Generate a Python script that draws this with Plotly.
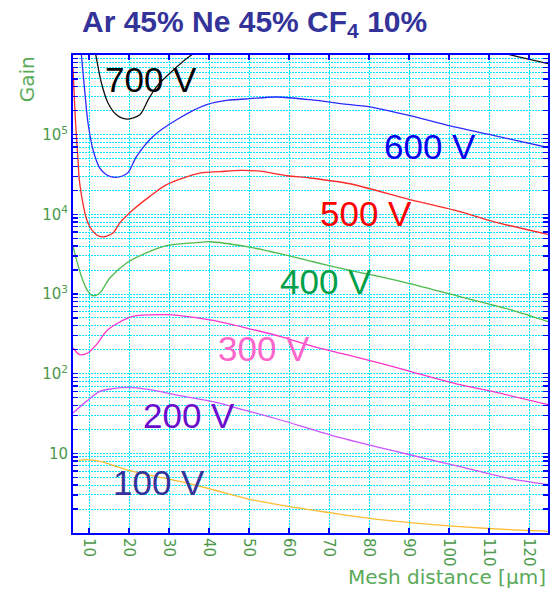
import plotly.graph_objects as go

# ---- data ----
v700_x = [10.9, 11.7, 13.1, 14.75, 16.85, 19.4, 22.7, 24.8, 26.9, 30.2, 35.6, 45, 60, 80, 100, 116.1, 124.7]
v700_g = [1.6e6, 1.0e6, 4.45e5, 2.5e5, 1.78e5, 1.57e5, 1.78e5, 2.75e5, 4.0e5, 5.9e5, 1.0e6, 1.8e6, 2.5e6, 2.3e6, 1.6e6, 9.8e5, 7.8e5]

v600_x = [7.5, 8.1, 8.9, 9.75, 11.0, 12.7, 14.35, 16.4, 18.5, 19.8, 21.9, 26.0, 31.9, 39.4, 44.4, 50.2, 56.9, 65.2, 75.2, 79.4, 90.2, 100.2, 110.2, 124.7]
v600_g = [2.0e6, 1.0e6, 3.67e5, 1.40e5, 6.47e4, 3.81e4, 3.14e4, 2.91e4, 3.05e4, 3.36e4, 5.34e4, 9.51e4, 1.54e5, 2.38e5, 2.69e5, 2.83e5, 2.97e5, 2.75e5, 2.38e5, 2.26e5, 1.73e5, 1.29e5, 1.0e5, 6.9e4]

v500_x = [6.0, 6.67, 7.25, 7.67, 9.75, 11.85, 13.5, 16.0, 17.7, 21.0, 25.2, 29.4, 37.7, 42.7, 47.7, 52.7, 59.4, 65.2, 75.2, 90.2, 102.7, 111.0, 124.7]
v500_g = [6.9e5, 1.33e5, 4.85e4, 2.47e4, 7.8e3, 5.55e3, 5.2e3, 5.83e3, 7.8e3, 1.14e4, 1.68e4, 2.36e4, 3.30e4, 3.43e4, 3.56e4, 3.48e4, 3.05e4, 2.86e4, 2.42e4, 1.53e4, 1.08e4, 8.1e3, 5.6e3]

v400_x = [6.0, 8.1, 9.75, 11.0, 12.7, 15.2, 19.4, 25.2, 29.4, 37.7, 40.2, 49.4, 57.7, 66.0, 74.4, 82.7, 90.2, 102.7, 115.2, 124.7]
v400_g = [3.96e3, 1.66e3, 1.08e3, 952, 1.03e3, 1.59e3, 2.45e3, 3.43e3, 4.04e3, 4.45e3, 4.53e3, 3.93e3, 3.21e3, 2.54e3, 2.02e3, 1.65e3, 1.35e3, 925, 635, 449]

v300_x = [6.0, 7.67, 9.75, 11.85, 14.7, 20.9, 29.4, 32.7, 41.0, 49.4, 57.7, 66.0, 74.4, 82.7, 90.2, 102.7, 111.0, 124.7]
v300_g = [210, 173, 183, 231, 356, 523, 550, 535, 466, 374, 294, 220, 173, 136, 107, 72.7, 59.4, 40.8]

v200_x = [6.0, 9.35, 12.7, 15.9, 19.4, 25.2, 32.7, 41.0, 49.4, 57.7, 70.2, 82.7, 90.2, 102.7, 115.2, 124.7]
v200_g = [32.1, 44.9, 59.9, 64.7, 67.3, 62.9, 52.9, 44.5, 34.3, 26.4, 17.1, 11.8, 9.6, 6.8, 4.8, 4.04]

v100_x = [6.0, 9.35, 12.7, 20.9, 32.7, 41.0, 49.4, 60.1, 70.2, 82.7, 90.2, 102.7, 115.2, 124.7]
v100_g = [7.92, 8.32, 7.92, 5.93, 4.44, 3.49, 2.70, 2.14, 1.80, 1.47, 1.35, 1.20, 1.10, 1.05]

x_ticks = [10, 20, 30, 40, 50, 60, 70, 80, 90, 100, 110, 120]
y_ticks = [1, 10, 100, 1000, 10000, 100000, 1000000]
y_tick_text = ["", "10", "10<sup>2</sup>", "10<sup>3</sup>", "10<sup>4</sup>", "10<sup>5</sup>", ""]
y_minor = [m * 10 ** d for d in range(0, 6) for m in range(2, 10)]

series = [
    ("700 V", v700_x, v700_g, "#111111", "#000000", 13.6, 5.69),
    ("600 V", v600_x, v600_g, "#2a2aff", "#0000ee", 83.1, 4.853),
    ("500 V", v500_x, v500_g, "#ff2a2a", "#ff0000", 67.2, 4.014),
    ("400 V", v400_x, v400_g, "#4cbb4c", "#00a04a", 57.2, 3.158),
    ("300 V", v300_x, v300_g, "#ff33cc", "#ff66cc", 41.85, 2.32),
    ("200 V", v200_x, v200_g, "#cc55ff", "#6a0dcc", 23.0, 1.479),
    ("100 V", v100_x, v100_g, "#ffbb33", "#333399", 15.6, 0.638),
]

fig = go.Figure()
for name, xs, gs, lc, tc, ax, ay in series:
    fig.add_trace(go.Scatter(x=xs, y=gs, mode="lines", name=name,
                             line=dict(color=lc, width=1.3, shape="spline", smoothing=0.8),
                             showlegend=False, cliponaxis=True, hoverinfo="skip"))
    fig.add_annotation(x=ax, y=ay, xref="x", yref="y", text=name, showarrow=False,
                       xanchor="left", yanchor="middle",
                       font=dict(family="Liberation Sans, Arial", size=35, color=tc))

tick_font = dict(family="DejaVu Sans, Liberation Sans", size=15, color="#4c9a4c")
grid_c = "#00e8ff"
grid_dash = "2px,1px"

fig.update_xaxes(range=[6, 124.7], tickvals=x_ticks, ticktext=[str(v) for v in x_ticks],
                 tickangle=90, tickfont=tick_font, automargin=False,
                 showline=True, linecolor="#0000ff", linewidth=2, mirror="ticks",
                 ticks="inside", ticklen=5, tickcolor="#0000ff", tickwidth=1.5,
                 showgrid=True, gridcolor=grid_c, griddash=grid_dash, gridwidth=1,
                 zeroline=False)
fig.update_yaxes(type="log", range=[0, 6], tickvals=y_ticks, ticktext=y_tick_text,
                 tickfont=tick_font, automargin=False,
                 showline=True, linecolor="#0000ff", linewidth=2, mirror="ticks",
                 ticks="inside", ticklen=5, tickcolor="#0000ff", tickwidth=1.5,
                 showgrid=True, gridcolor=grid_c, griddash=grid_dash, gridwidth=1,
                 minor=dict(tickvals=y_minor, ticks="inside", ticklen=5,
                            tickcolor="#0000ff", tickwidth=1.5,
                            showgrid=True, gridcolor=grid_c, griddash=grid_dash, gridwidth=1),
                 zeroline=False)

fig.add_annotation(text="Gain", xref="paper", yref="paper", x=-0.097, y=0.949,
                   textangle=-90, showarrow=False, xanchor="center", yanchor="middle",
                   font=dict(family="DejaVu Sans, Liberation Sans", size=20, color="#5aaa5a"))
fig.add_annotation(text="Mesh distance [µm]", xref="paper", yref="paper", x=1.0, y=-0.092,
                   showarrow=False, xanchor="right", yanchor="middle",
                   font=dict(family="DejaVu Sans, Liberation Sans", size=20, color="#5aaa5a"))

fig.update_layout(
    width=551, height=589,
    margin=dict(l=73, r=3, t=55, b=56),
    paper_bgcolor="white", plot_bgcolor="white",
    hovermode=False,
    title=dict(text="<b>Ar 45% Ne 45% CF<sub>4</sub> 10%</b>", x=82 / 551, xanchor="left",
               y=1 - 21 / 589, yanchor="middle",
               font=dict(family="Liberation Sans, Arial", size=30, color="#333399")),
)

fig.write_html("out.html", config={"displayModeBar": False, "staticPlot": True},
               post_script="document.body.style.margin='0';document.body.style.overflow='hidden';")
